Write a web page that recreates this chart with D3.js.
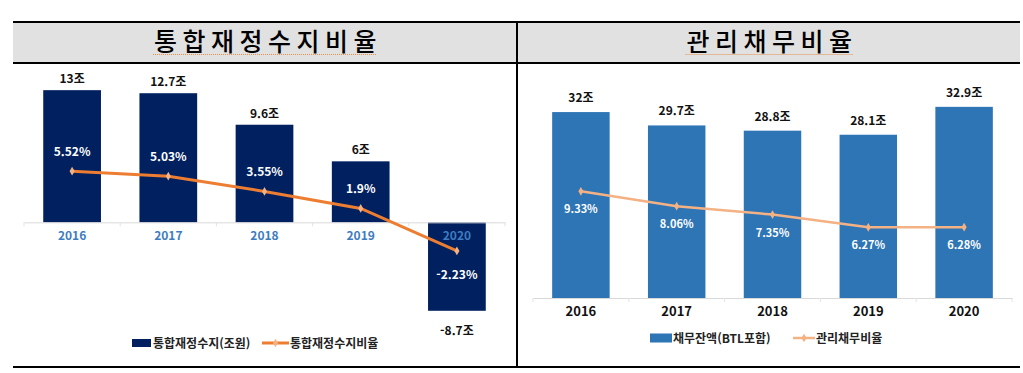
<!DOCTYPE html>
<html lang="ko">
<head>
<meta charset="utf-8">
<script src="https://cdnjs.cloudflare.com/ajax/libs/d3/7.8.5/d3.min.js"></script>
<style>
  body { margin: 0; background: #fff; }
  text { font-family: "Noto Sans CJK KR", "Noto Sans", sans-serif; }
</style>
</head>
<body>
<script>

// data
var years = ["2016", "2017", "2018", "2019", "2020"];

var balanceTitle = "통합재정수지비율";
var balance = [13, 12.7, 9.6, 6, -8.7];          // 통합재정수지(조원)
var balanceLabels = ["13조", "12.7조", "9.6조", "6조", "-8.7조"];
var balanceRatio = [5.52, 5.03, 3.55, 1.9, -2.23];
var balanceRatioLabels = ["5.52%", "5.03%", "3.55%", "1.9%", "-2.23%"];

var debtTitle = "관리채무비율";
var debt = [32, 29.7, 28.8, 28.1, 32.9];          // 채무잔액(BTL포함)
var debtLabels = ["32조", "29.7조", "28.8조", "28.1조", "32.9조"];
var debtRatio = [9.33, 8.06, 7.35, 6.27, 6.28];
var debtRatioLabels = ["9.33%", "8.06%", "7.35%", "6.27%", "6.28%"];

var legendLeft = ["통합재정수지(조원)", "통합재정수지비율"];
var legendRight = ["채무잔액(BTL포함)", "관리채무비율"];

var W = 1023, H = 373;
var svg = d3.select("body").append("svg")
    .attr("width", W)
    .attr("height", H);

///// table frame
var tableTop = 22, headBottom = 63, tableBottom = 367, tableLeft = 13, tableRight = 1020, divider = 517;

svg.append("rect")
    .attr("x", tableLeft).attr("y", tableTop)
    .attr("width", tableRight - tableLeft).attr("height", headBottom - tableTop)
    .attr("fill", "#e1e1e1");

[tableTop, headBottom, tableBottom].forEach(function(y) {
  svg.append("line")
      .attr("x1", tableLeft).attr("x2", tableRight)
      .attr("y1", y).attr("y2", y)
      .attr("stroke", "#000").attr("stroke-width", 2);
});
svg.append("line")
    .attr("x1", divider).attr("x2", divider)
    .attr("y1", tableTop).attr("y2", tableBottom)
    .attr("stroke", "#000").attr("stroke-width", 2);

function header(text, cx) {
  var t = svg.append("text")
      .attr("x", cx + 3).attr("y", 51)
      .attr("text-anchor", "middle")
      .style("font-size", "25px")
      .style("font-weight", "500")
      .style("letter-spacing", "5.5px")
      .attr("fill", "#000")
      .text(text);
  var w = t.node().getComputedTextLength();
  // spell-check style dotted underline
  svg.append("line")
      .attr("x1", cx - w / 2 + 2).attr("x2", cx + w / 2 - 2)
      .attr("y1", 54.5).attr("y2", 54.5)
      .attr("stroke", "#e8904a").attr("stroke-width", 1)
      .attr("stroke-dasharray", "1,1");
}
header(balanceTitle, 265);
header(debtTitle, 769);

function diamond(g, x, y, color) {
  g.append("path")
      .attr("d", d3.symbol().type(d3.symbolDiamond).size(22)())
      .attr("transform", "translate(" + x + "," + y + ")")
      .attr("fill", color);
}

///// left chart: 통합재정수지
(function() {
  var g = svg.append("g");
  var barColor = "#002060", lineColor = "#ed7d31", markColor = "#f4b183";

  var x = d3.scaleBand().domain(years).range([24, 505]).paddingInner(0.4).paddingOuter(0.2);
  var y = d3.scaleLinear().domain([-10, 14]).range([324, 80]);
  var y2 = d3.scaleLinear().domain([-3, 6]).range([258.9, 166.2]);

  g.selectAll(".bar").data(balance).enter().append("rect")
      .attr("class", "bar")
      .attr("x", function(d, i) { return x(years[i]); })
      .attr("y", function(d) { return y(Math.max(0, d)); })
      .attr("width", x.bandwidth())
      .attr("height", function(d) { return Math.abs(y(d) - y(0)); })
      .attr("fill", barColor);

  // axis
  var axis = g.append("g")
      .attr("transform", "translate(0," + y(0) + ")")
      .call(d3.axisBottom(x).tickSize(0).tickPadding(9));
  axis.select(".domain").attr("stroke", "#d9d9d9");
  axis.selectAll("text")
      .attr("fill", "#3d7cc0")
      .style("font-size", "12px")
      .style("font-weight", "bold")
      .style("font-family", "'Noto Sans CJK KR', sans-serif");
  d3.range(6).forEach(function(i) {
    var xx = 24 + i * x.step();
    g.append("line")
        .attr("x1", xx).attr("x2", xx)
        .attr("y1", y(0)).attr("y2", y(0) + 4)
        .attr("stroke", "#e3e3e3");
  });

  g.selectAll(".vlab").data(balance).enter().append("text")
      .attr("x", function(d, i) { return x(years[i]) + x.bandwidth() / 2; })
      .attr("y", function(d) { return d >= 0 ? y(d) - 7 : y(d) + 24; })
      .attr("text-anchor", "middle")
      .style("font-size", "12px").style("font-weight", "bold")
      .attr("fill", "#111")
      .text(function(d, i) { return balanceLabels[i]; });

  var line = d3.line()
      .x(function(d, i) { return x(years[i]) + x.bandwidth() / 2; })
      .y(function(d) { return y2(d); });
  g.append("path")
      .datum(balanceRatio)
      .attr("d", line)
      .attr("fill", "none")
      .attr("stroke", lineColor)
      .attr("stroke-width", 3);
  balanceRatio.forEach(function(d, i) {
    diamond(g, x(years[i]) + x.bandwidth() / 2, y2(d), markColor);
  });

  g.selectAll(".plab").data(balanceRatio).enter().append("text")
      .attr("x", function(d, i) { return x(years[i]) + x.bandwidth() / 2; })
      .attr("y", function(d) { return d >= 0 ? y2(d) - 15 : y2(d) + 28; })
      .attr("text-anchor", "middle")
      .style("font-size", "12px").style("font-weight", "bold")
      .attr("fill", "#fff")
      .text(function(d, i) { return balanceRatioLabels[i]; });

  // legend
  var ly = 343;
  g.append("rect").attr("x", 132).attr("y", ly - 4).attr("width", 19).attr("height", 8).attr("fill", barColor);
  g.append("text").attr("x", 153).attr("y", ly + 4.5)
      .style("font-size", "12px").style("font-weight", "bold").attr("fill", "#222")
      .text(legendLeft[0]);
  g.append("line").attr("x1", 262).attr("x2", 289).attr("y1", ly).attr("y2", ly)
      .attr("stroke", lineColor).attr("stroke-width", 3);
  diamond(g, 275.5, ly, markColor);
  g.append("text").attr("x", 290).attr("y", ly + 4.5)
      .style("font-size", "12px").style("font-weight", "bold").attr("fill", "#222")
      .text(legendLeft[1]);
})();

///// right chart: 관리채무
(function() {
  var g = svg.append("g");
  var barColor = "#2e75b6", lineColor = "#f4b183";

  var x = d3.scaleBand().domain(years).range([533, 1012]).paddingInner(0.4).paddingOuter(0.2);
  var y = d3.scaleLinear().domain([0, 35]).range([298, 94.65]);
  var y2 = d3.scaleLinear().domain([0, 10]).range([301, 183.4]);

  g.selectAll(".bar").data(debt).enter().append("rect")
      .attr("x", function(d, i) { return x(years[i]); })
      .attr("y", function(d) { return y(d); })
      .attr("width", x.bandwidth())
      .attr("height", function(d) { return y(0) - y(d); })
      .attr("fill", barColor);

  var axis = g.append("g")
      .attr("transform", "translate(0," + y(0) + ")")
      .call(d3.axisBottom(x).tickSize(0).tickPadding(9));
  axis.select(".domain").attr("stroke", "#d9d9d9");
  axis.selectAll("text")
      .attr("fill", "#111")
      .style("font-size", "13px")
      .style("font-weight", "bold")
      .style("font-family", "'Noto Sans CJK KR', sans-serif");
  d3.range(6).forEach(function(i) {
    var xx = 533 + i * x.step();
    g.append("line")
        .attr("x1", xx).attr("x2", xx)
        .attr("y1", y(0)).attr("y2", y(0) + 4)
        .attr("stroke", "#e3e3e3");
  });

  g.selectAll(".vlab").data(debt).enter().append("text")
      .attr("x", function(d, i) { return x(years[i]) + x.bandwidth() / 2; })
      .attr("y", function(d) { return y(d) - 10; })
      .attr("text-anchor", "middle")
      .style("font-size", "12px").style("font-weight", "bold")
      .attr("fill", "#111")
      .text(function(d, i) { return debtLabels[i]; });

  var line = d3.line()
      .x(function(d, i) { return x(years[i]) + x.bandwidth() / 2; })
      .y(function(d) { return y2(d); });
  g.append("path")
      .datum(debtRatio)
      .attr("d", line)
      .attr("fill", "none")
      .attr("stroke", lineColor)
      .attr("stroke-width", 2.5);
  debtRatio.forEach(function(d, i) {
    diamond(g, x(years[i]) + x.bandwidth() / 2, y2(d), lineColor);
  });

  g.selectAll(".plab").data(debtRatio).enter().append("text")
      .attr("x", function(d, i) { return x(years[i]) + x.bandwidth() / 2; })
      .attr("y", function(d) { return y2(d) + 22; })
      .attr("text-anchor", "middle")
      .style("font-size", "11px").style("font-weight", "bold")
      .attr("fill", "#fff")
      .text(function(d, i) { return debtRatioLabels[i]; });

  var ly = 338;
  g.append("rect").attr("x", 650).attr("y", ly - 4.5).attr("width", 22).attr("height", 9).attr("fill", barColor);
  g.append("text").attr("x", 673).attr("y", ly + 4.5)
      .style("font-size", "12px").style("font-weight", "bold").attr("fill", "#222")
      .text(legendRight[0]);
  g.append("line").attr("x1", 793).attr("x2", 815).attr("y1", ly).attr("y2", ly)
      .attr("stroke", lineColor).attr("stroke-width", 2.5);
  diamond(g, 804, ly, lineColor);
  g.append("text").attr("x", 816).attr("y", ly + 4.5)
      .style("font-size", "12px").style("font-weight", "bold").attr("fill", "#222")
      .text(legendRight[1]);
})();

</script>
</body>
</html>
